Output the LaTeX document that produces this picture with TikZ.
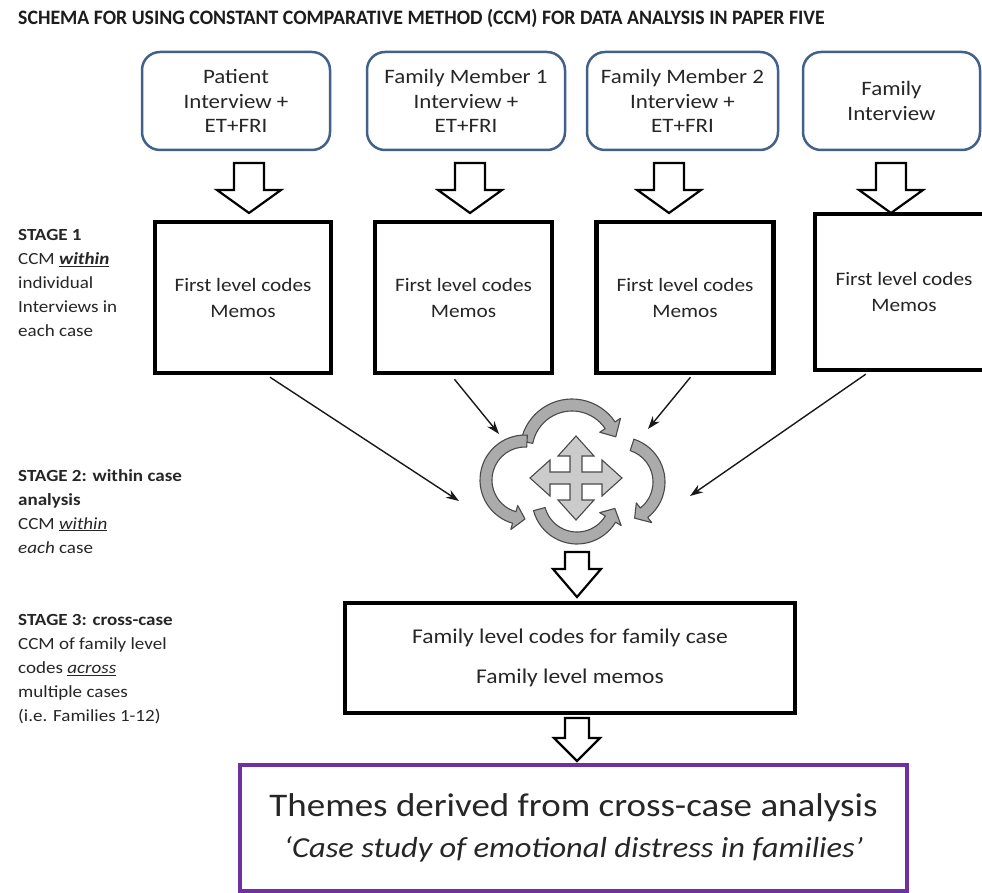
\documentclass[tikz,border=0pt]{standalone}
\usepackage{fontspec}
\setmainfont{Carlito}[FakeStretch=1.12]
\newfontfamily\titlefont{Carlito}[FakeStretch=0.965]
\usetikzlibrary{calc,arrows.meta}
\definecolor{boxblue}{HTML}{41618A}
\definecolor{txt}{HTML}{262626}
\definecolor{titlec}{HTML}{1C1C1C}
\definecolor{purp}{HTML}{7030A0}
\definecolor{lobefill}{HTML}{ABABAB}
\definecolor{crossfill}{HTML}{CBCBCB}
\definecolor{lobeline}{HTML}{4A4A4A}
\tikzset{
  topbox/.style={draw=boxblue, line width=2.5pt, rounded corners=18pt, fill=white, text=txt, align=center,
    font=\fontsize{20.5}{24.5}\selectfont, inner sep=0pt},
  codebox/.style={draw=black, line width=4.5pt, text=txt, align=center, font=\fontsize{19}{26}\selectfont, inner sep=0pt},
  hollow/.style={draw=black, line width=2.2pt, fill=white, line join=miter},
  thinarrow/.style={draw=black!90, line width=1.4pt, -{Stealth[length=13pt, width=9pt]}},
  lobe/.style={draw=lobeline, line width=1.1pt, fill=lobefill, line join=round},
  cross/.style={draw=lobeline, line width=1.1pt, fill=crossfill, line join=miter},
  stagelbl/.style={anchor=north west, align=left, inner sep=0pt, text=txt, font=\fontsize{17}{24}\selectfont},
}
% hollow block arrow: #1 top coordinate, #2 stem half width, #3 head half width, #4 stem length, #5 total length
\newcommand{\blockarrow}[5]{%
  \draw[hollow, shift={(#1)}] (-#2,0) -- (#2,0) -- (#2,#4) -- (#3,#4) -- (0,#5) -- (-#3,#4) -- (-#2,#4) -- cycle;}
% curved lobe arrow: #1 centre, #2 mid radius, #3 start angle, #4 shaft end angle, #5 tip angle
\newcommand{\lobearrow}[5]{%
  \draw[lobe] ($(#1)+(#3:{#2+6})$) arc[start angle=#3, end angle=#4, radius={#2+6}]
    -- ($(#1)+(#4:{#2+12.5})$) -- ($(#1)+(#5:{#2})$) -- ($(#1)+(#4:{#2-12.5})$) -- ($(#1)+(#4:{#2-6})$)
    arc[start angle=#4, end angle=#3, radius={#2-6}] -- cycle;}
\begin{document}
\begin{tikzpicture}[x=1pt,y=-1pt]
\clip (0,0) rectangle (982,893);
\fill[white] (0,0) rectangle (982,893);

% title
\node[anchor=west, inner sep=0pt, text=titlec, font=\titlefont\bfseries\fontsize{20.5}{24}\selectfont] (title) at (18,18)
  {SCHEMA FOR USING CONSTANT COMPARATIVE METHOD (CCM) FOR DATA ANALYSIS IN PAPER FIVE};

% top boxes
\node[topbox, minimum width=188pt, minimum height=98pt] (t1) at (236,101) {Patient\\Interview +\\ET+FRI};
\node[topbox, minimum width=198pt, minimum height=98pt] (t2) at (466,101) {Family Member 1\\Interview +\\ET+FRI};
\node[topbox, minimum width=191pt, minimum height=98pt] (t3) at (682.5,101) {Family Member 2\\Interview +\\ET+FRI};
\node[topbox, minimum width=177pt, minimum height=98pt] (t4) at (891.5,101) {Family\\Interview};

% block arrows top row
\coordinate (a1) at (249,163);
\coordinate (a2) at (470,163);
\coordinate (a3) at (669,163);
\coordinate (a4) at (891,163);
\blockarrow{a1}{15}{32}{27}{50}
\blockarrow{a2}{15}{32}{27}{50}
\blockarrow{a3}{15}{32}{27}{50}
\blockarrow{a4}{15}{32}{27}{50}

% stage 1 code boxes
\node[codebox, minimum width=176pt, minimum height=151pt] (cA) at (243,297.5) {First level codes\\Memos};
\node[codebox, minimum width=177pt, minimum height=151pt] (cB) at (463.5,297.5) {First level codes\\Memos};
\node[codebox, minimum width=177pt, minimum height=151pt] (cC) at (685,297.5) {First level codes\\Memos};
\node[codebox, minimum width=178pt, minimum height=156pt] (cD) at (904,292) {First level codes\\Memos};

% stage labels
\node[stagelbl] (s1) at (18,229) {\textbf{STAGE 1}\\CCM \textbf{\textit{\underline{within}}}\\individual\\Interviews in\\each case};
\node[stagelbl] (s2) at (18,469) {\textbf{STAGE 2: within case}\\\textbf{analysis}\\CCM \underline{\textit{within}}\\\textit{each} case};
\node[stagelbl] (s3) at (18,614) {\textbf{STAGE 3: cross-case}\\CCM of family level\\codes \underline{\textit{across}}\\multiple cases\\(i.e. Families 1-12)};

% cloud of curved arrows
\coordinate (cloud) at (576,478);
\coordinate (lt) at (572,451);
\coordinate (lr) at (620,482);
\coordinate (lb) at (577,499);
\coordinate (ll) at (525,480);
\lobearrow{lt}{46}{191}{326}{342}
\lobearrow{lr}{39}{288}{412}{428}
\lobearrow{lb}{39}{165}{31}{14}
\lobearrow{ll}{39}{273}{106}{90}
\draw[cross, shift={(cloud)}] (6,-6) -- (6,-22) -- (18,-22) -- (0,-42) -- (-18,-22) -- (-6,-22) -- (-6,-6)
  -- (-26,-6) -- (-26,-18) -- (-46,0) -- (-26,18) -- (-26,6) -- (-6,6) -- (-6,22) -- (-18,22) -- (0,42)
  -- (18,22) -- (6,22) -- (6,6) -- (26,6) -- (26,18) -- (46,0) -- (26,-18) -- (26,-6) -- cycle;

% thin arrows into the cloud
\coordinate (eA) at (459,501);
\coordinate (eB) at (499,434);
\coordinate (eC) at (648,429);
\coordinate (eD) at (690,496);
\draw[thinarrow] ($(cA.south west)!0.65!(cA.south east)+(0,2)$) -- (eA);
\draw[thinarrow] ($(cB.south west)!0.45!(cB.south east)+(0,4)$) -- (eB);
\draw[thinarrow] ($(cC.south west)!0.53!(cC.south east)+(0,2)$) -- (eC);
\draw[thinarrow] ($(cD.south west)!0.29!(cD.south east)+(0,2)$) -- (eD);

% arrow to stage 3 box
\coordinate (a5) at (577,552);
\blockarrow{a5}{12}{24}{17}{45}

% stage 3 box
\node[codebox, minimum width=450pt, minimum height=110pt, font=\fontsize{21}{40}\selectfont] (fam) at (570,658)
  {Family level codes for family case\\Family level memos};

\coordinate (a6) at (577,718);
\blockarrow{a6}{12}{23}{20}{43}

% themes box
\node[draw=purp, line width=4pt, minimum width=667pt, minimum height=126pt, align=center, inner sep=0pt, text=txt,
  font=\fontsize{33}{41}\selectfont] (themes) at (573.5,828)
  {Themes derived from cross-case analysis\\{\fontsize{29}{41}\selectfont\itshape ‘Case study of emotional distress in families’}};
\end{tikzpicture}
\end{document}
